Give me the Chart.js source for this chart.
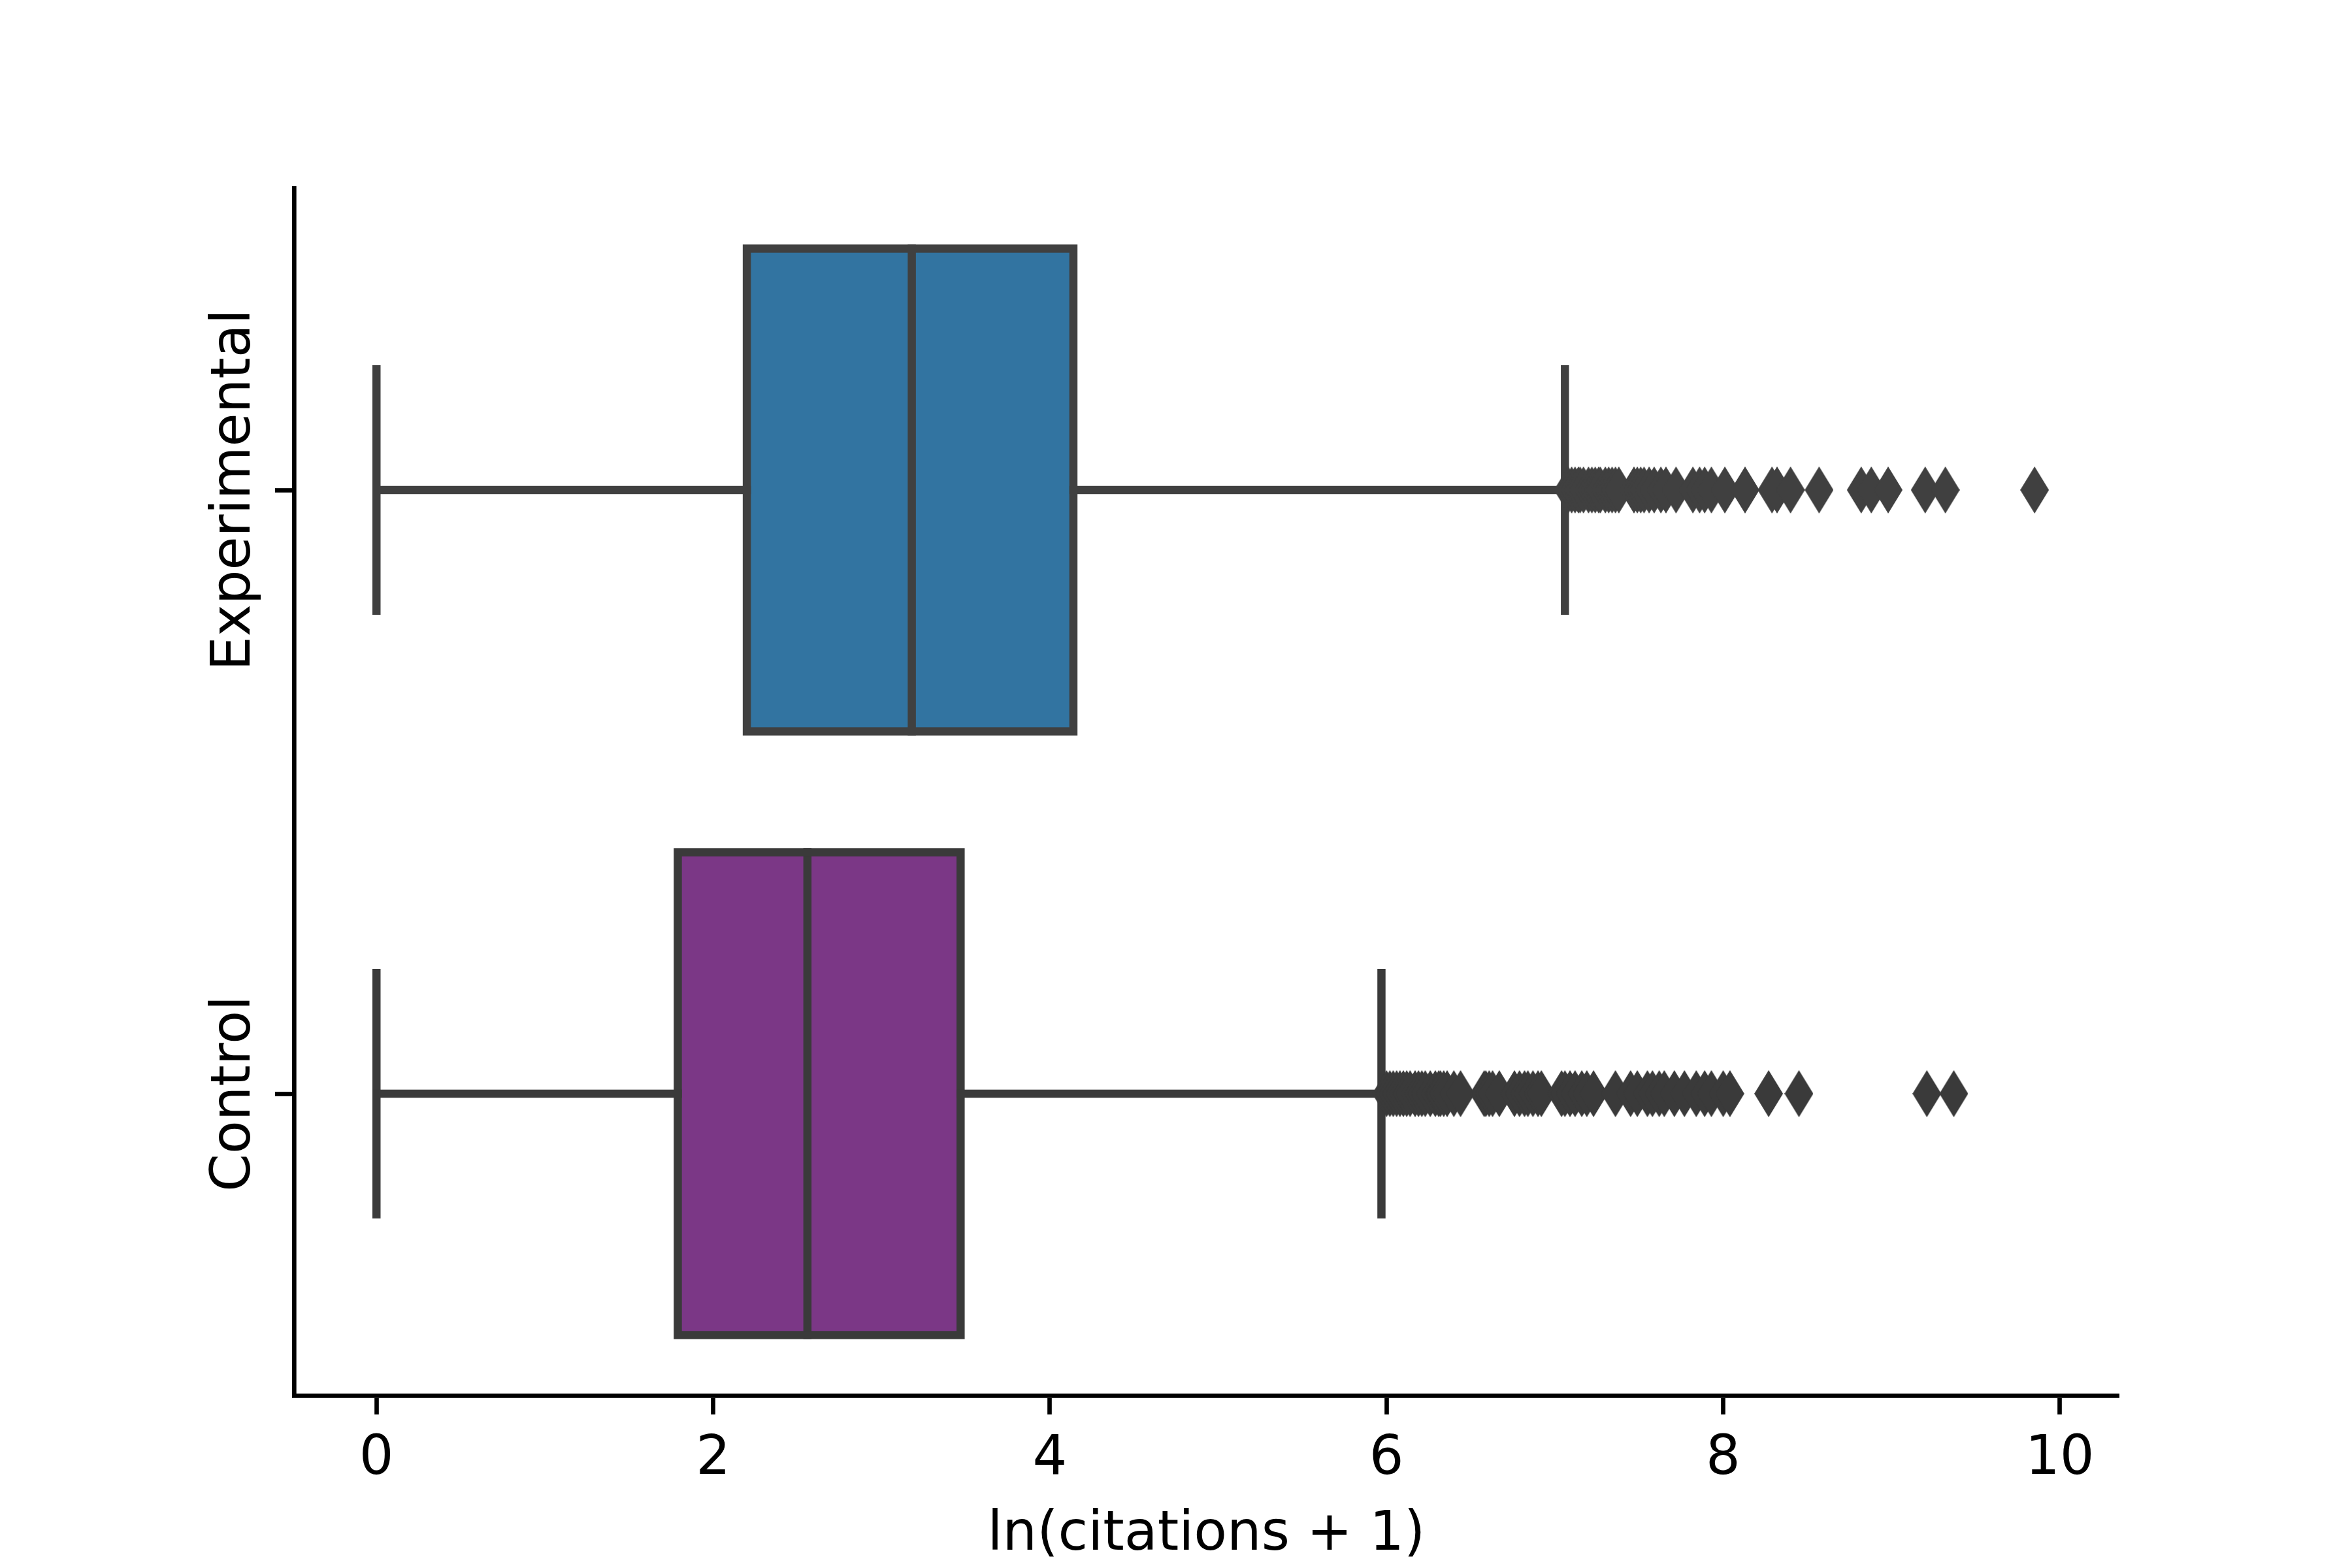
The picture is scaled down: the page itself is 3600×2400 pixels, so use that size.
<!DOCTYPE html>
<html>
<head>
<meta charset="utf-8">
<script src="https://cdn.jsdelivr.net/npm/chart.js@4.4.1/dist/chart.umd.min.js"></script>
<style>
  html, body { margin: 0; padding: 0; background: #fff; }
  #boxChart { display: block; }
</style>
</head>
<body>
<canvas id="boxChart" width="3600" height="2400" style="width:3600px;height:2400px"></canvas>
<script>
// values
const categories = ['Experimental', 'Control'];
const whiskerLow = [0, 0];
const q1 = [2.20, 1.79];
const medians = [3.18, 2.56];
const q3 = [4.14, 3.47];
const whiskerHigh = [7.06, 5.97];
const expOutliers = [7.08, 7.10, 7.12, 7.14, 7.15, 7.17, 7.20, 7.22, 7.24, 7.26, 7.27, 7.30,
  7.32, 7.34, 7.36, 7.38, 7.47, 7.49, 7.51, 7.53, 7.56, 7.59, 7.63, 7.66, 7.72, 7.82, 7.86,
  7.89, 7.93, 8.01, 8.13, 8.29, 8.32, 8.40, 8.57, 8.82, 8.88, 8.98, 9.20, 9.32, 9.85];
const ctrlOutliers = [6.00, 6.02, 6.04, 6.06, 6.08, 6.10, 6.12, 6.14, 6.17, 6.19, 6.21, 6.23,
  6.26, 6.29, 6.31, 6.32, 6.34, 6.36, 6.40, 6.44, 6.58, 6.59, 6.61, 6.63, 6.67, 6.76, 6.79,
  6.82, 6.84, 6.87, 6.90, 6.92, 7.04, 7.06, 7.09, 7.12, 7.16, 7.19, 7.23, 7.36, 7.45, 7.49,
  7.55, 7.58, 7.62, 7.65, 7.71, 7.77, 7.84, 7.89, 7.93, 8.00, 8.04, 8.27, 8.45, 9.21, 9.37];
const outliers = [expOutliers, ctrlOutliers];
const xTicks = [0, 2, 4, 6, 8, 10];

const boxColors = ['#3274a1', '#7b3786'];
const lineColors = ['#404040', '#3a3a3a'];
const BOX_W = 0.8;
const CAP_W = 0.4;
const LW = 12.5;
const FONT = { family: 'DejaVu Sans', size: 83 };

function diamond(color) {
  const c = document.createElement('canvas');
  c.width = 44; c.height = 72;
  const g = c.getContext('2d');
  g.fillStyle = color;
  g.beginPath();
  g.moveTo(22, 0); g.lineTo(44, 36); g.lineTo(22, 72); g.lineTo(0, 36);
  g.closePath();
  g.fill();
  return c;
}

const datasets = [];
categories.forEach((name, i) => {
  const seg = pts => ({
    type: 'line', data: pts, borderColor: lineColors[i], borderWidth: LW,
    borderCapStyle: 'square', borderJoinStyle: 'miter', pointRadius: 0,
    fill: false, tension: 0, order: 1
  });
  const lo = i - BOX_W / 2, hi = i + BOX_W / 2;
  // whiskers
  datasets.push(seg([{ x: whiskerLow[i], y: i }, { x: q1[i], y: i }]));
  datasets.push(seg([{ x: q3[i], y: i }, { x: whiskerHigh[i], y: i }]));
  // caps
  datasets.push(seg([{ x: whiskerLow[i], y: i - CAP_W / 2 }, { x: whiskerLow[i], y: i + CAP_W / 2 }]));
  datasets.push(seg([{ x: whiskerHigh[i], y: i - CAP_W / 2 }, { x: whiskerHigh[i], y: i + CAP_W / 2 }]));
  // box outline
  datasets.push(seg([{ x: q1[i], y: lo }, { x: q3[i], y: lo }, { x: q3[i], y: hi },
    { x: q1[i], y: hi }, { x: q1[i], y: lo }]));
  // median
  datasets.push(seg([{ x: medians[i], y: lo }, { x: medians[i], y: hi }]));
  // fliers
  datasets.push({
    type: 'line', showLine: false, data: outliers[i].map(v => ({ x: v, y: i })),
    pointStyle: diamond(lineColors[i]), pointRadius: 1, order: 0
  });
});
datasets.push({
  type: 'bar', indexAxis: 'y',
  data: categories.map((c, i) => ({ x: [q1[i], q3[i]], y: i })),
  backgroundColor: boxColors, borderWidth: 0,
  barPercentage: BOX_W, categoryPercentage: 1, order: 5
});

const yLabels = {
  id: 'yLabels',
  afterDraw(chart) {
    const { ctx, scales: { y } } = chart;
    ctx.save();
    ctx.font = FONT.size + 'px "' + FONT.family + '"';
    ctx.fillStyle = '#000';
    ctx.textAlign = 'center';
    ctx.textBaseline = 'alphabetic';
    categories.forEach((name, i) => {
      ctx.save();
      ctx.translate(y.right - 68, y.getPixelForValue(i));
      ctx.rotate(-Math.PI / 2);
      ctx.fillText(name, 0, 0);
      ctx.restore();
    });
    ctx.restore();
  }
};

const axisGrid = {
  display: true, drawOnChartArea: false, drawTicks: true,
  tickLength: 29, tickWidth: 6.67, tickColor: '#000', offset: false
};
const axisBorder = { display: true, color: '#000', width: 6.67 };

new Chart(document.getElementById('boxChart'), {
  type: 'bar',
  data: { datasets },
  options: {
    responsive: false,
    animation: false,
    devicePixelRatio: 1,
    events: [],
    layout: { padding: { left: 0, right: 357, top: 288, bottom: 0 } },
    plugins: { legend: { display: false }, tooltip: { enabled: false } },
    scales: {
      x: {
        type: 'linear', min: -0.49, max: 10.35, offset: false,
        afterBuildTicks: s => { s.ticks = xTicks.map(v => ({ value: v })); },
        ticks: { font: FONT, color: '#000', padding: 20, maxRotation: 0, autoSkip: false },
        grid: axisGrid,
        border: axisBorder,
        title: { display: true, text: 'ln(citations + 1)', font: FONT, color: '#000', padding: { top: 0, bottom: 0 } },
        afterFit: s => { s.height = 264; }
      },
      y: {
        type: 'linear', min: -0.5, max: 1.5, reverse: true, offset: false, beginAtZero: false,
        afterBuildTicks: s => { s.ticks = categories.map((c, i) => ({ value: i })); },
        ticks: { display: false },
        grid: axisGrid,
        border: axisBorder,
        afterFit: s => { s.width = 450; }
      }
    }
  },
  plugins: [yLabels]
});
</script>
</body>
</html>
